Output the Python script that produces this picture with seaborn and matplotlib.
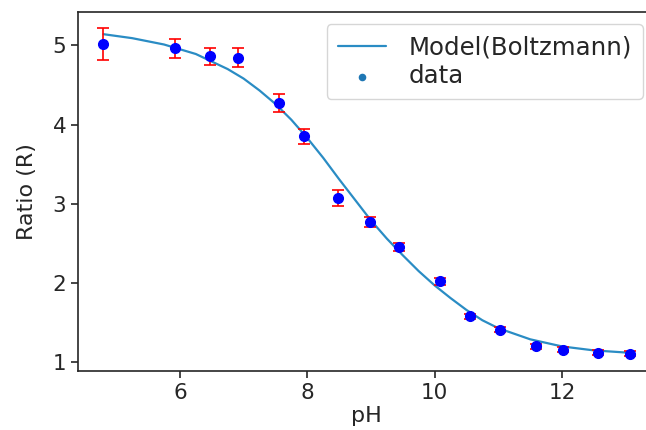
import numpy as np
import matplotlib
matplotlib.use("Agg")
import matplotlib.pyplot as plt
import seaborn as sns

# measured data (pH, ratio, error)
ph = [4.80, 5.93, 6.48, 6.91, 7.56, 7.95, 8.49, 8.98,
      9.44, 10.09, 10.56, 11.02, 11.59, 12.01, 12.57, 13.06]
ratio = [5.02, 4.96, 4.86, 4.84, 4.27, 3.85, 3.07, 2.77,
         2.46, 2.02, 1.58, 1.41, 1.20, 1.16, 1.12, 1.11]
ratio_err = [0.20, 0.12, 0.11, 0.12, 0.11, 0.09, 0.10, 0.06,
             0.05, 0.04, 0.03, 0.03, 0.03, 0.03, 0.03, 0.03]

# fitted Boltzmann curve
model_ph = [4.80, 5.25, 5.75, 6.25, 6.75, 7.0, 7.25, 7.5, 7.75, 8.0, 8.25,
            8.5, 8.75, 9.0, 9.25, 9.5, 9.75, 10.0, 10.25, 10.5, 10.75,
            11.0, 11.5, 12.0, 12.5, 13.06]
model_ratio = [5.14, 5.09, 5.01, 4.89, 4.70, 4.58, 4.43, 4.26, 4.06, 3.83, 3.58,
               3.31, 3.05, 2.79, 2.56, 2.35, 2.15, 1.97, 1.81, 1.66, 1.53,
               1.43, 1.29, 1.20, 1.15, 1.12]

sns.set_style("ticks")
plt.rcParams['font.family'] = ['DejaVu Sans']
plt.rcParams['axes.linewidth'] = 1.2
plt.rcParams['xtick.major.width'] = 1.2
plt.rcParams['ytick.major.width'] = 1.2
plt.rcParams['xtick.major.size'] = 5
plt.rcParams['ytick.major.size'] = 5

fig = plt.figure(figsize=(6.46, 4.30), dpi=100)
ax = fig.add_axes([78 / 646, 1 - 371 / 430, (655 - 78) / 646, (371 - 12) / 430])

sns.lineplot(x=model_ph, y=model_ratio, color='#2a8cc4', linewidth=1.6,
             label='Model(Boltzmann)', ax=ax, sort=False)
sns.scatterplot(x=ph, y=ratio, color='#1f77b4', s=30, linewidth=0,
                label='data', ax=ax, zorder=1)
ax.errorbar(ph, ratio, yerr=ratio_err, fmt='o', color='blue', markersize=7,
            ecolor='red', elinewidth=1.2, capsize=4, capthick=1.2, zorder=3)

ax.set_xlim(4.40, 13.46)
ax.set_ylim(0.89, 5.42)
ax.set_xticks([6, 8, 10, 12])
ax.set_yticks([1, 2, 3, 4, 5])
ax.tick_params(labelsize=15.5)
ax.set_xlabel('pH', fontsize=16, labelpad=2)
ax.set_ylabel('Ratio (R)', fontsize=16, labelpad=11)
ax.legend(loc='upper right', fontsize=17.6, frameon=True, labelspacing=0.2,
          handletextpad=0.9, borderpad=0.45, borderaxespad=0.5)

fig.savefig('out.png', dpi=100)
